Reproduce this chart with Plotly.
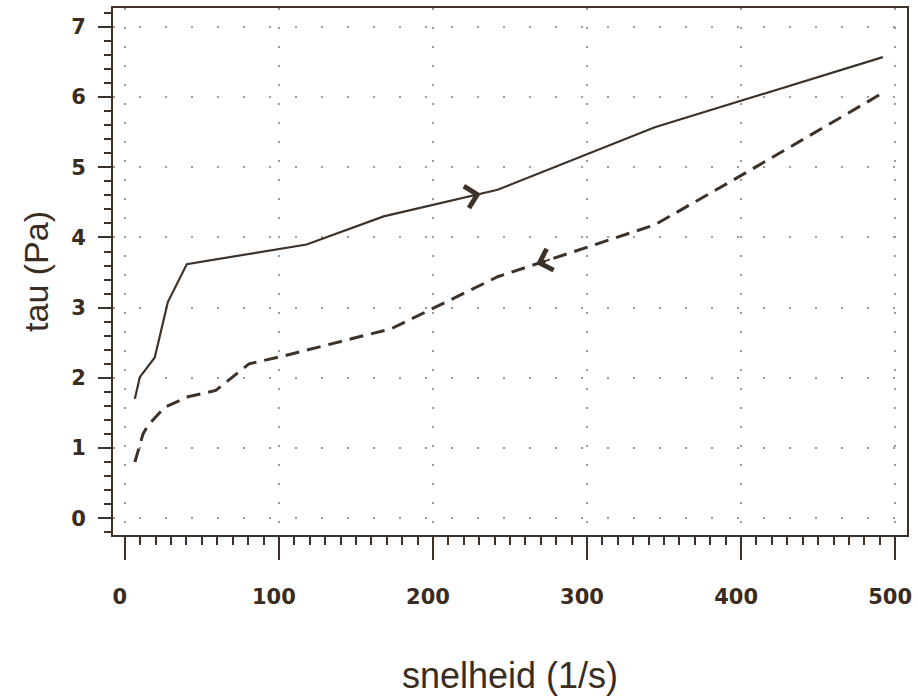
import numpy as np
import plotly.graph_objects as go

# Up curve (solid)
up_x = [6.5, 9.7, 19.4, 27.9, 40.2, 118, 168, 242, 344, 492]
up_y = [1.70, 2.01, 2.29, 3.08, 3.62, 3.90, 4.30, 4.68, 5.57, 6.57]

# Down curve (dashed)
down_x = [6.5, 11.8, 15, 25.8, 41, 59, 80.6, 101, 173, 242, 344, 399, 492]
down_y = [0.80, 1.20, 1.32, 1.58, 1.73, 1.82, 2.20, 2.30, 2.70, 3.44, 4.18, 4.87, 6.06]

x_ticks = [0, 100, 200, 300, 400, 500]
y_ticks = [0, 1, 2, 3, 4, 5, 6, 7]

# direction arrows placed on the curves
up_arrow_x = 231
down_arrow_x = 267
arrow_tail = 10

INK = "#3d3229"
TEXT = "#3a2c20"
GRID = "#9a9a9a"

fig = go.Figure()
fig.add_trace(go.Scatter(x=up_x, y=up_y, mode="lines",
                         line=dict(color=INK, width=2.2)))
fig.add_trace(go.Scatter(x=down_x, y=down_y, mode="lines",
                         line=dict(color=INK, width=3, dash="14px,8px")))

ua_y = float(np.interp(up_arrow_x, up_x, up_y))
ua_y0 = float(np.interp(up_arrow_x - arrow_tail, up_x, up_y))
da_y = float(np.interp(down_arrow_x, down_x, down_y))
da_y0 = float(np.interp(down_arrow_x + arrow_tail, down_x, down_y))

fig.add_annotation(x=up_arrow_x, y=ua_y, ax=up_arrow_x - arrow_tail, ay=ua_y0,
                   xref="x", yref="y", axref="x", ayref="y", text="",
                   showarrow=True, arrowhead=4, arrowsize=2.7, arrowwidth=1.6,
                   arrowcolor=INK)
fig.add_annotation(x=down_arrow_x, y=da_y, ax=down_arrow_x + arrow_tail, ay=da_y0,
                   xref="x", yref="y", axref="x", ayref="y", text="",
                   showarrow=True, arrowhead=4, arrowsize=2.7, arrowwidth=1.6,
                   arrowcolor=INK)

fig.update_layout(
    width=918, height=698,
    margin=dict(l=113, r=6, t=7, b=163),
    plot_bgcolor="white", paper_bgcolor="white",
    showlegend=False,
)

fig.update_xaxes(
    range=[-7.7, 507.7],
    tickvals=x_ticks, ticktext=[str(v) for v in x_ticks],
    ticks="outside", ticklen=23, tickwidth=2, tickcolor=INK,
    showline=True, linewidth=2, linecolor=INK, mirror=True,
    showgrid=True, gridcolor=GRID, gridwidth=1.5, griddash="2px,17px",
    zeroline=False,
    minor=dict(tick0=0, dtick=10, ticks="outside", ticklen=8, tickwidth=1.6,
               tickcolor=INK, showgrid=False),
    tickfont=dict(family="DejaVu Sans", size=21, color=TEXT, weight="bold"),
    ticklabelstandoff=19, ticklabelshift=-5, ticklabeloverflow="allow",
    title=dict(text="snelheid (1/s)", standoff=55,
               font=dict(family="Liberation Sans", size=36, color=TEXT)),
)

fig.update_yaxes(
    range=[-0.24, 7.27],
    tickvals=y_ticks, ticktext=[str(v) for v in y_ticks],
    ticks="outside", ticklen=13, tickwidth=2, tickcolor=INK,
    showline=True, linewidth=2, linecolor=INK, mirror=True,
    showgrid=True, gridcolor=GRID, gridwidth=1.5, griddash="2px,24px",
    zeroline=False,
    minor=dict(tick0=0, dtick=0.2, ticks="outside", ticklen=7, tickwidth=1.6,
               tickcolor=INK, showgrid=False),
    tickfont=dict(family="DejaVu Sans", size=21, color=TEXT, weight="bold"),
    ticklabelstandoff=8,
    title=dict(text="tau (Pa)", standoff=12,
               font=dict(family="Liberation Sans", size=34, color=TEXT)),
)

fig.write_html("out.html")
